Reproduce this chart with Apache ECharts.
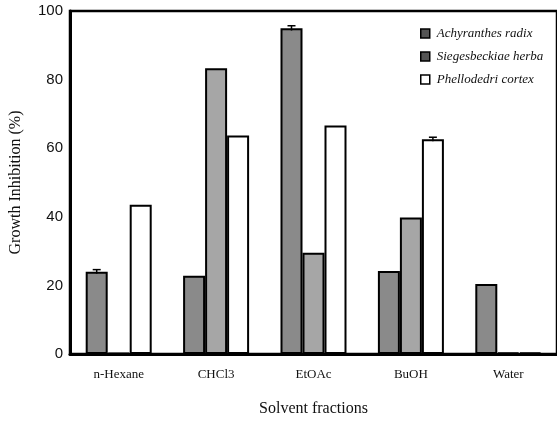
<!DOCTYPE html>
<html><head><meta charset="utf-8">
<script src="https://cdn.jsdelivr.net/npm/echarts@6/dist/echarts.min.js"></script>
<style>html,body{margin:0;padding:0;background:#fff}#c{width:557px;height:421px}</style>
</head><body><div id="c"></div>
<script>
var categories = ['n-Hexane', 'CHCl3', 'EtOAc', 'BuOH', 'Water'];
var seriesNames = ['Achyranthes radix', 'Siegesbeckiae herba', 'Phellodedri cortex'];
var achyranthes = [24.0, 22.8, 95.0, 24.2, 20.4];
var siegesbeckiae = [0.3, 83.3, 29.5, 39.8, 0.4];
var phellodedri = [43.5, 63.7, 66.6, 62.6, 0.4];
var errAchyranthes = [0.6, 0, 0.7, 0, 0];
var errSiegesbeckiae = [0, 0, 0, 0, 0];
var errPhellodedri = [0, 0, 0, 0.6, 0];
var yTicks = [0, 20, 40, 60, 80, 100];

var values = [achyranthes, siegesbeckiae, phellodedri];
var errs = [errAchyranthes, errSiegesbeckiae, errPhellodedri];
var fills = ['#8a8a8a', '#a6a6a6', '#ffffff'];
var BW = 22;
var serif = "'Liberation Serif', 'DejaVu Serif', serif";

var series = [];
values.forEach(function (vals, k) {
  series.push({
    name: seriesNames[k], type: 'bar', data: vals,
    barWidth: BW, barGap: '0%',
    itemStyle: { color: fills[k], borderColor: '#000', borderWidth: 2 },
    emphasis: { disabled: true }
  });
});
values.forEach(function (vals, k) {
  var d = [];
  vals.forEach(function (v, i) { if (errs[k][i] > 0) d.push([i, v, errs[k][i]]); });
  series.push({
    type: 'custom', name: 'err' + k, data: d, z: 5,
    renderItem: function (params, api) {
      var i = api.value(0), v = api.value(1), e = api.value(2);
      var hi = api.coord([i, v + e]), lo = api.coord([i, v - e]);
      var x = hi[0] + (k - 1) * BW;
      var st = { stroke: '#000', lineWidth: 1.5 };
      return { type: 'group', children: [
        { type: 'line', shape: { x1: x, y1: hi[1], x2: x, y2: lo[1] }, style: st },
        { type: 'line', shape: { x1: x - 4, y1: hi[1], x2: x + 4, y2: hi[1] }, style: st }
      ]};
    }
  });
});

var chart = echarts.init(document.getElementById('c'));
chart.setOption({
  animation: false,
  grid: { left: 70, right: 0, top: 11, bottom: 67, containLabel: false, outerBoundsMode: 'none',
          show: true, borderColor: '#000', borderWidth: 2.5, backgroundColor: 'transparent' },
  legend: {
    data: seriesNames.map(function (n) { return { name: n, itemStyle: { color: n === seriesNames[2] ? '#fff' : '#555', borderColor: '#000', borderWidth: 1.5 } }; }),
    orient: 'vertical', left: 415, top: 22, itemGap: 10, itemWidth: 9, itemHeight: 9, icon: 'rect',
    textStyle: { fontFamily: serif, fontStyle: 'italic', fontSize: 13, color: '#111', padding: [0, 0, 0, 2] }
  },
  xAxis: {
    type: 'category', data: categories,
    name: 'Solvent fractions', nameLocation: 'middle', nameGap: 47,
    nameTextStyle: { fontFamily: serif, fontSize: 16, color: '#111' },
    axisLine: { lineStyle: { color: '#000', width: 3 } },
    axisTick: { show: false },
    axisLabel: { fontFamily: serif, fontSize: 13, color: '#111', margin: 14 }
  },
  yAxis: {
    type: 'value', min: yTicks[0], max: yTicks[yTicks.length - 1], interval: 20,
    name: 'Growth Inhibition (%)', nameLocation: 'middle', nameGap: 46,
    nameTextStyle: { fontFamily: serif, fontSize: 16, color: '#111' },
    axisLine: { show: true, lineStyle: { color: '#000', width: 3 } },
    axisTick: { show: false },
    splitLine: { show: false },
    axisLabel: { fontFamily: "'Liberation Sans', Arial, sans-serif", fontSize: 15, color: '#111', margin: 7 }
  },
  series: series
});
</script></body></html>
